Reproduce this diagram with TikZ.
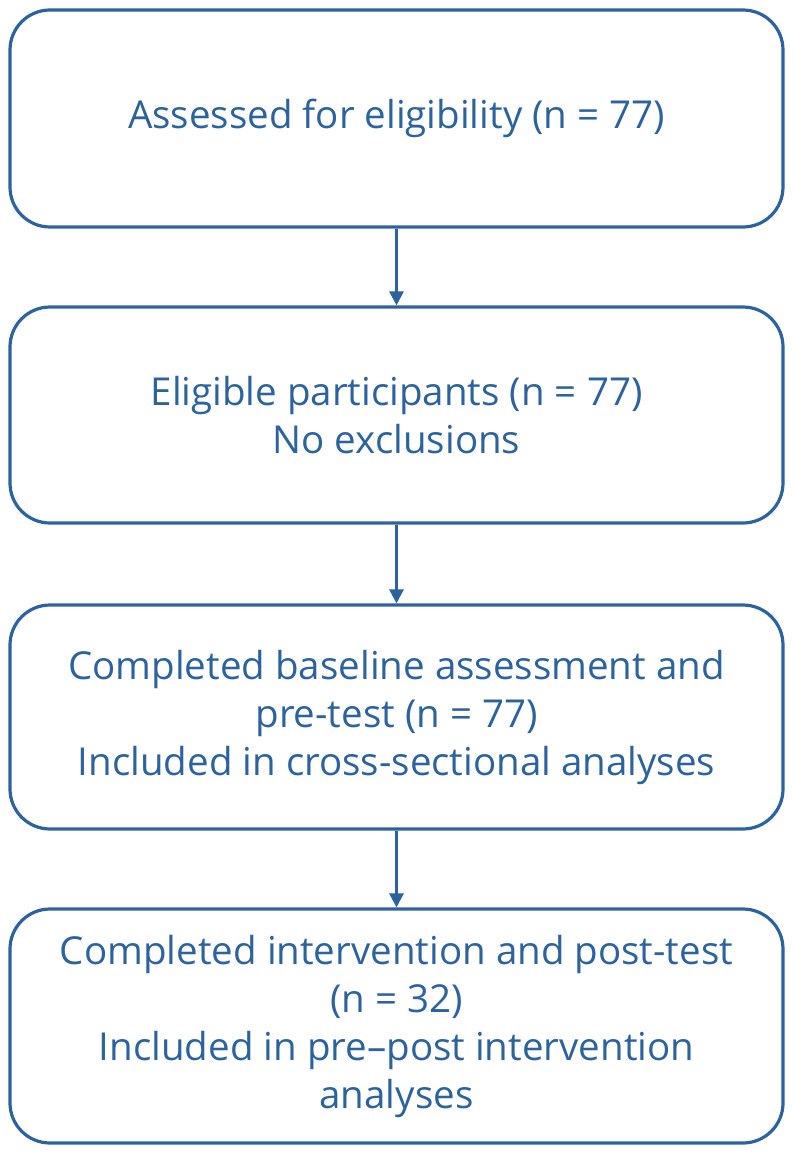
\documentclass[tikz,border=0pt]{standalone}
\usepackage{fontspec}
\setmainfont{Open Sans}
\usetikzlibrary{arrows.meta}
\definecolor{fblue}{RGB}{44,98,158}
\begin{document}
\begin{tikzpicture}[x=1pt,y=-1pt,
  flowbox/.style={draw=fblue, line width=3.2pt, rounded corners=40pt, minimum width=773pt, text=fblue, align=center, font=\fontsize{38.5}{48}\selectfont, inner sep=0pt},
  flowarrow/.style={draw=fblue, line width=3pt, -{Triangle[length=14pt,width=14pt]}}]
\useasboundingbox (0,0) rectangle (794,1156);
\node[flowbox, minimum height=217pt] (b1) at (396.5,118.5) {Assessed for eligibility (n = 77)};
\node[flowbox, minimum height=216pt] (b2) at (396.5,415) {Eligible participants (n = 77)\\No exclusions};
\node[flowbox, minimum height=224pt] (b3) at (396.5,717) {Completed baseline assessment and\\pre-test (n = 77)\\Included in cross-sectional analyses};
\node[flowbox, minimum height=234pt] (b4) at (396.5,1026) {Completed intervention and post-test\\(n = 32)\\Included in pre--post intervention\\analyses};
\draw[flowarrow] (b1.south) -- (b2.north);
\draw[flowarrow] (b2.south) -- (b3.north);
\draw[flowarrow] (b3.south) -- (b4.north);
\end{tikzpicture}
\end{document}
